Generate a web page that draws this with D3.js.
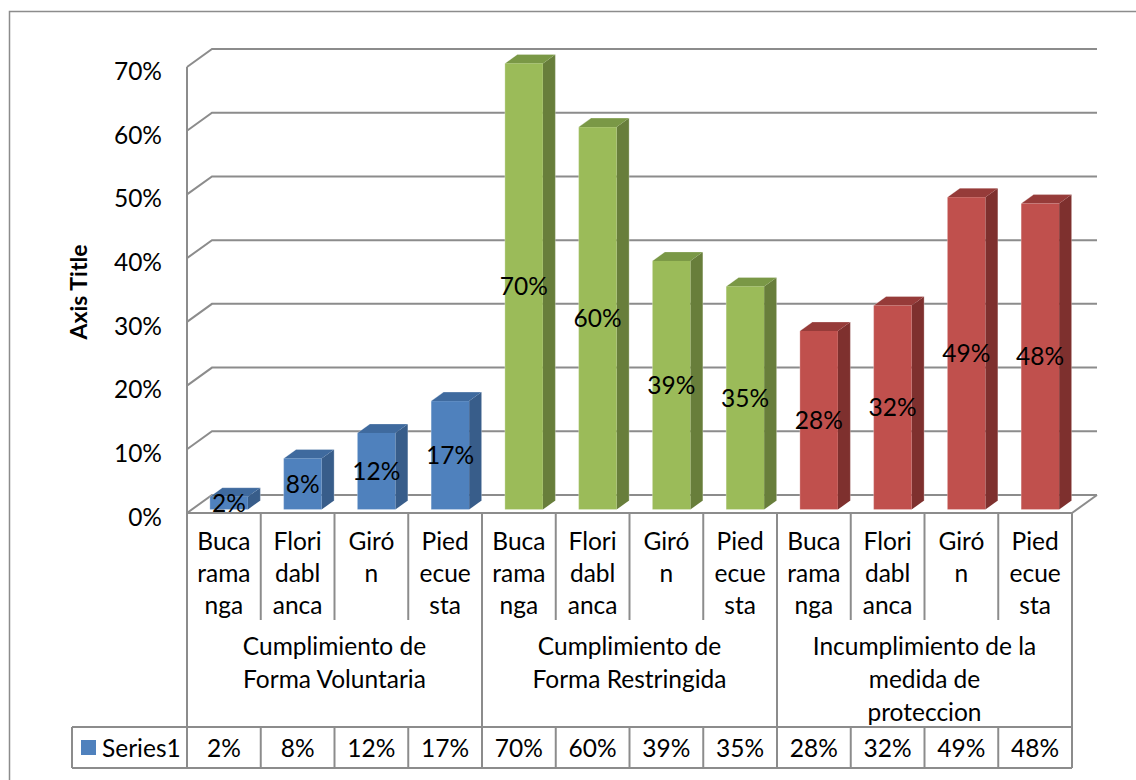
<!DOCTYPE html>
<html>
<head>
<meta charset="utf-8">
<script src="https://cdn.jsdelivr.net/npm/d3@7"></script>
<style>
  html, body { margin: 0; padding: 0; background: #fff; }
  svg { display: block; font-family: Lato, "Open Sans", sans-serif; }
</style>
</head>
<body>
<svg id="chart" width="1136" height="780"></svg>
<script>
// ---- data ----
const categories = ["Bucaramanga", "Floridablanca", "Girón", "Piedecuesta",
                    "Bucaramanga", "Floridablanca", "Girón", "Piedecuesta",
                    "Bucaramanga", "Floridablanca", "Girón", "Piedecuesta"];
const categoryTickLabels = ["Buca\nrama\nnga", "Flori\ndabl\nanca", "Giró\nn", "Pied\necue\nsta",
                            "Buca\nrama\nnga", "Flori\ndabl\nanca", "Giró\nn", "Pied\necue\nsta",
                            "Buca\nrama\nnga", "Flori\ndabl\nanca", "Giró\nn", "Pied\necue\nsta"];
const groups = ["Cumplimiento de Forma Voluntaria", "Cumplimiento de Forma Restringida", "Incumplimiento de la medida de proteccion"];
const groupTickLabels = ["Cumplimiento de\nForma Voluntaria", "Cumplimiento de\nForma Restringida", "Incumplimiento de la\nmedida de\nproteccion"];
const groupOfCategory = [0,0,0,0,1,1,1,1,2,2,2,2];
const series1 = [0.02, 0.08, 0.12, 0.17, 0.70, 0.60, 0.39, 0.35, 0.28, 0.32, 0.49, 0.48];
const seriesName = "Series1";
const yTicks = [0, 0.1, 0.2, 0.3, 0.4, 0.5, 0.6, 0.7];
const axisTitle = "Axis Title";

// ---- styles ----
const groupColors = [
  {front: "#4F81BD", side: "#385D8A", top: "#3F6A9E"},
  {front: "#9BBB59", side: "#687E3B", top: "#7A9846"},
  {front: "#C0504D", side: "#7E302E", top: "#963B39"}
];
const lineColor = "#8c8c8c";
const fontSize = 24.5;

const svg = d3.select("#chart");

// outer border
svg.append("rect").attr("x", 9.5).attr("y", 11.5).attr("width", 1300).attr("height", 900)
  .attr("fill", "none").attr("stroke", lineColor).attr("stroke-width", 1.5);

// geometry
const x0 = 187, x1 = 1072;
const depthX = 25, depthY = 18;
const x = d3.scaleBand().domain(d3.range(categories.length)).range([x0, x1]);
const y = d3.scaleLinear().domain([0, 0.7]).range([513, 67]);
const bw = x.bandwidth();
const barW = 38;
const f1 = 0.2, f2 = 0.7;

// back wall gridlines (with left-wall diagonal)
const gridG = svg.append("g");
yTicks.forEach(t => {
  const yy = y(t);
  gridG.append("path")
    .attr("d", `M${x0},${yy} L${x0 + depthX},${yy - depthY} L${x1 + depthX},${yy - depthY}`)
    .attr("fill", "none").attr("stroke", lineColor).attr("stroke-width", 2);
});
gridG.append("line").attr("x1", x0).attr("x2", x0).attr("y1", y(0.7)).attr("y2", y(0))
  .attr("stroke", lineColor).attr("stroke-width", 2);
gridG.append("line").attr("x1", x1).attr("y1", y(0)).attr("x2", x1 + depthX).attr("y2", y(0) - depthY)
  .attr("stroke", lineColor).attr("stroke-width", 2);

// y axis labels
const yAxis = d3.axisLeft(y).tickValues(yTicks).tickFormat(d3.format(".0%")).tickSize(0).tickPadding(25);
const yAxisG = svg.append("g").attr("transform", `translate(${x0},4.5)`).call(yAxis);
yAxisG.select(".domain").remove();
yAxisG.selectAll("text").attr("font-size", fontSize).attr("font-family", "Lato").attr("fill", "#000");

// axis title
svg.append("text").attr("transform", "translate(87,292) rotate(-90)")
  .attr("text-anchor", "middle").attr("font-weight", "bold").attr("font-size", 23)
  .attr("fill", "#000").text(axisTitle);

// bars
const ddx = (f2 - f1) * depthX, ddy = (f2 - f1) * depthY;
const barsG = svg.append("g");
series1.forEach((v, i) => {
  const c = groupColors[groupOfCategory[i]];
  const xf = x(i) + (bw - barW) / 2 + f1 * depthX;
  const yb = y(0) - f1 * depthY;
  const yt = y(v) - f1 * depthY;
  const g = barsG.append("g");
  g.append("path")
    .attr("d", `M${xf + barW},${yb} L${xf + barW + ddx},${yb - ddy} L${xf + barW + ddx},${yt - ddy} L${xf + barW},${yt} Z`)
    .attr("fill", c.side);
  g.append("path")
    .attr("d", `M${xf},${yt} L${xf + ddx},${yt - ddy} L${xf + barW + ddx},${yt - ddy} L${xf + barW},${yt} Z`)
    .attr("fill", c.top);
  g.append("rect").attr("x", xf).attr("y", yt).attr("width", barW).attr("height", yb - yt)
    .attr("fill", c.front);
  g.append("path")
    .attr("d", `M${xf},${yb} L${xf},${yt} L${xf + ddx},${yt - ddy} L${xf + barW + ddx},${yt - ddy} L${xf + barW + ddx},${yb - ddy}`)
    .attr("fill", "none").attr("stroke", "#ffffff").attr("stroke-opacity", 0.35).attr("stroke-width", 0.8);
});
// data labels
series1.forEach((v, i) => {
  const xf = x(i) + (bw - barW) / 2 + f1 * depthX;
  const yb = y(0) - f1 * depthY;
  const yt = y(v) - f1 * depthY;
  svg.append("text").attr("x", xf + barW / 2).attr("y", (yb + yt) / 2)
    .attr("dy", "0.36em").attr("text-anchor", "middle").attr("font-size", fontSize).attr("fill", "#000")
    .text(d3.format(".0%")(v));
});

// ---- data table ----
const tG = svg.append("g").attr("stroke", lineColor).attr("stroke-width", 2).attr("fill", "none");
const tTop = y(0), rowCityBottom = 620, rowGroupBottom = 727, tBottom = 768, legendLeft = 72;
tG.append("line").attr("x1", x0).attr("x2", x1).attr("y1", tTop).attr("y2", tTop);
tG.append("line").attr("x1", legendLeft).attr("x2", x1).attr("y1", rowGroupBottom).attr("y2", rowGroupBottom);
tG.append("line").attr("x1", legendLeft).attr("x2", x1).attr("y1", tBottom).attr("y2", tBottom);
tG.append("line").attr("x1", legendLeft).attr("x2", legendLeft).attr("y1", rowGroupBottom).attr("y2", tBottom);
const bounds = d3.range(categories.length + 1).map(i => i < categories.length ? x(i) : x1);
bounds.forEach((bx, i) => {
  if (i % 4 === 0) {
    tG.append("line").attr("x1", bx).attr("x2", bx).attr("y1", tTop).attr("y2", tBottom);
  } else {
    tG.append("line").attr("x1", bx).attr("x2", bx).attr("y1", tTop).attr("y2", rowCityBottom);
    tG.append("line").attr("x1", bx).attr("x2", bx).attr("y1", rowGroupBottom).attr("y2", tBottom);
  }
});

// category labels
categoryTickLabels.forEach((lab, i) => {
  const t = svg.append("text").attr("text-anchor", "middle").attr("font-size", fontSize).attr("fill", "#000");
  lab.split("\n").forEach((ln, k) => {
    t.append("tspan").attr("x", x(i) + bw / 2).attr("y", 541 + k * 32).attr("dy", "0.36em").text(ln);
  });
});
// group labels
groupTickLabels.forEach((lab, gi) => {
  const gx = (x(gi * 4) + (gi * 4 + 4 < categories.length ? x(gi * 4 + 4) : x1)) / 2;
  const t = svg.append("text").attr("text-anchor", "middle").attr("font-size", fontSize).attr("fill", "#000");
  lab.split("\n").forEach((ln, k) => {
    t.append("tspan").attr("x", gx).attr("y", 646 + k * 33).attr("dy", "0.36em").text(ln);
  });
});
// series values row
series1.forEach((v, i) => {
  svg.append("text").attr("x", x(i) + bw / 2).attr("y", 748).attr("dy", "0.36em")
    .attr("text-anchor", "middle").attr("font-size", fontSize).attr("fill", "#000")
    .text(d3.format(".0%")(v));
});
// legend key
svg.append("rect").attr("x", 81).attr("y", 740).attr("width", 15).attr("height", 15).attr("fill", groupColors[0].front);
svg.append("text").attr("x", 102).attr("y", 748).attr("dy", "0.36em").attr("font-size", fontSize)
  .attr("fill", "#000").text(seriesName);
</script>
</body>
</html>
